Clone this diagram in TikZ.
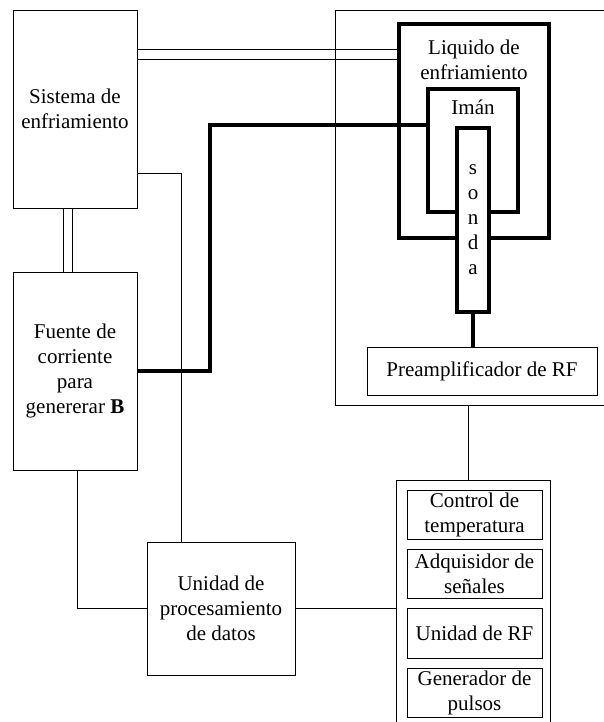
\documentclass[tikz,border=0pt]{standalone}
\usepackage{fontspec}
\setmainfont{Liberation Serif}
\tikzset{bloque/.style={draw, line width=0.9pt, align=center, inner sep=1pt, outer sep=0pt},
  grueso/.style={draw, line width=3.5pt, outer sep=0pt},
  linea/.style={line width=0.9pt}
}

\begin{document}
\begin{tikzpicture}[x=1pt, y=-1pt, font=\fontsize{21}{25}\selectfont]
  \useasboundingbox (0,0) rectangle (604,722);
  \clip (0,0) rectangle (604,722);
  % lado izquierdo
  \node[bloque, minimum width=124pt, minimum height=198pt] (sist) at (75,109) {Sistema de\\enfriamiento};
  \node[bloque, minimum width=124pt, minimum height=198pt] (fuente) at (75,371) {Fuente de\\corriente\\para\\genererar \textbf{B}};
  \node[bloque, minimum width=148pt, minimum height=133pt] (proc) at (221,608.5) {Unidad de\\procesamiento\\de datos};
  % laboratorio
  \node[bloque, minimum width=305pt, minimum height=395pt] (lab) at (487.5,207.5) {};
  \node[grueso, minimum width=150pt, minimum height=214pt] (liq) at (474,131) {};
  \node (liqtxt) at (474,59.5) [align=center] {Liquido de\\enfriamiento};
  \node[grueso, minimum width=90pt, minimum height=123pt] (iman) at (473,150.5) {};
  \node (imantxt) at (473,107) {Imán};
  \node[grueso, fill=white, minimum width=32pt, minimum height=184pt, align=center, inner sep=0pt] (sonda) at (473,220) {s\\o\\n\\d\\a};
  \node[bloque, minimum width=230pt, minimum height=48pt] (pre) at (482,371) {Preamplificador de RF};
  % electronica
  \node[bloque, minimum width=154pt, minimum height=300pt] (elec) at (473,630) {};
  \node[bloque, minimum width=135pt, minimum height=49pt] (ctrl) at (474.5,514.5) {Control de\\temperatura};
  \node[bloque, minimum width=135pt, minimum height=49pt] (adq) at (474.5,573.5) {Adquisidor de\\señales};
  \node[bloque, minimum width=135pt, minimum height=50pt] (urf) at (474.5,633) {Unidad de RF};
  \node[bloque, minimum width=135pt, minimum height=49pt] (gen) at (474.5,692.5) {Generador de\\pulsos};

  % conexiones
  \draw[linea] ([yshift=-39pt]sist.north east) -- ([yshift=-39pt]sist.north east -| liq.west);
  \draw[linea] ([yshift=-49pt]sist.north east) -- ([yshift=-49pt]sist.north east -| liq.west);
  \draw[linea] ([xshift=-12pt]sist.south) -- ([xshift=-12pt]fuente.north);
  \draw[linea] ([xshift=-3pt]sist.south) -- ([xshift=-3pt]fuente.north);
  \draw[linea] ([yshift=-64pt]sist.east) -| ([xshift=-40pt]proc.north);
  \draw[linea] ([xshift=2pt]fuente.south) |- (proc.west);
  \draw[linea] (proc.east) -- (proc.east -| elec.west);
  \draw[linea] ([xshift=-5pt]elec.north) -- ([xshift=-5pt]elec.north |- lab.south);
  \coordinate (codo) at (210,371);
  \draw[line width=3.5pt] (fuente.east) -- (codo) |- ([yshift=25.5pt]iman.west);
  \draw[line width=3.5pt] (sonda.south) -- (sonda.south |- pre.north);
\end{tikzpicture}
\end{document}
